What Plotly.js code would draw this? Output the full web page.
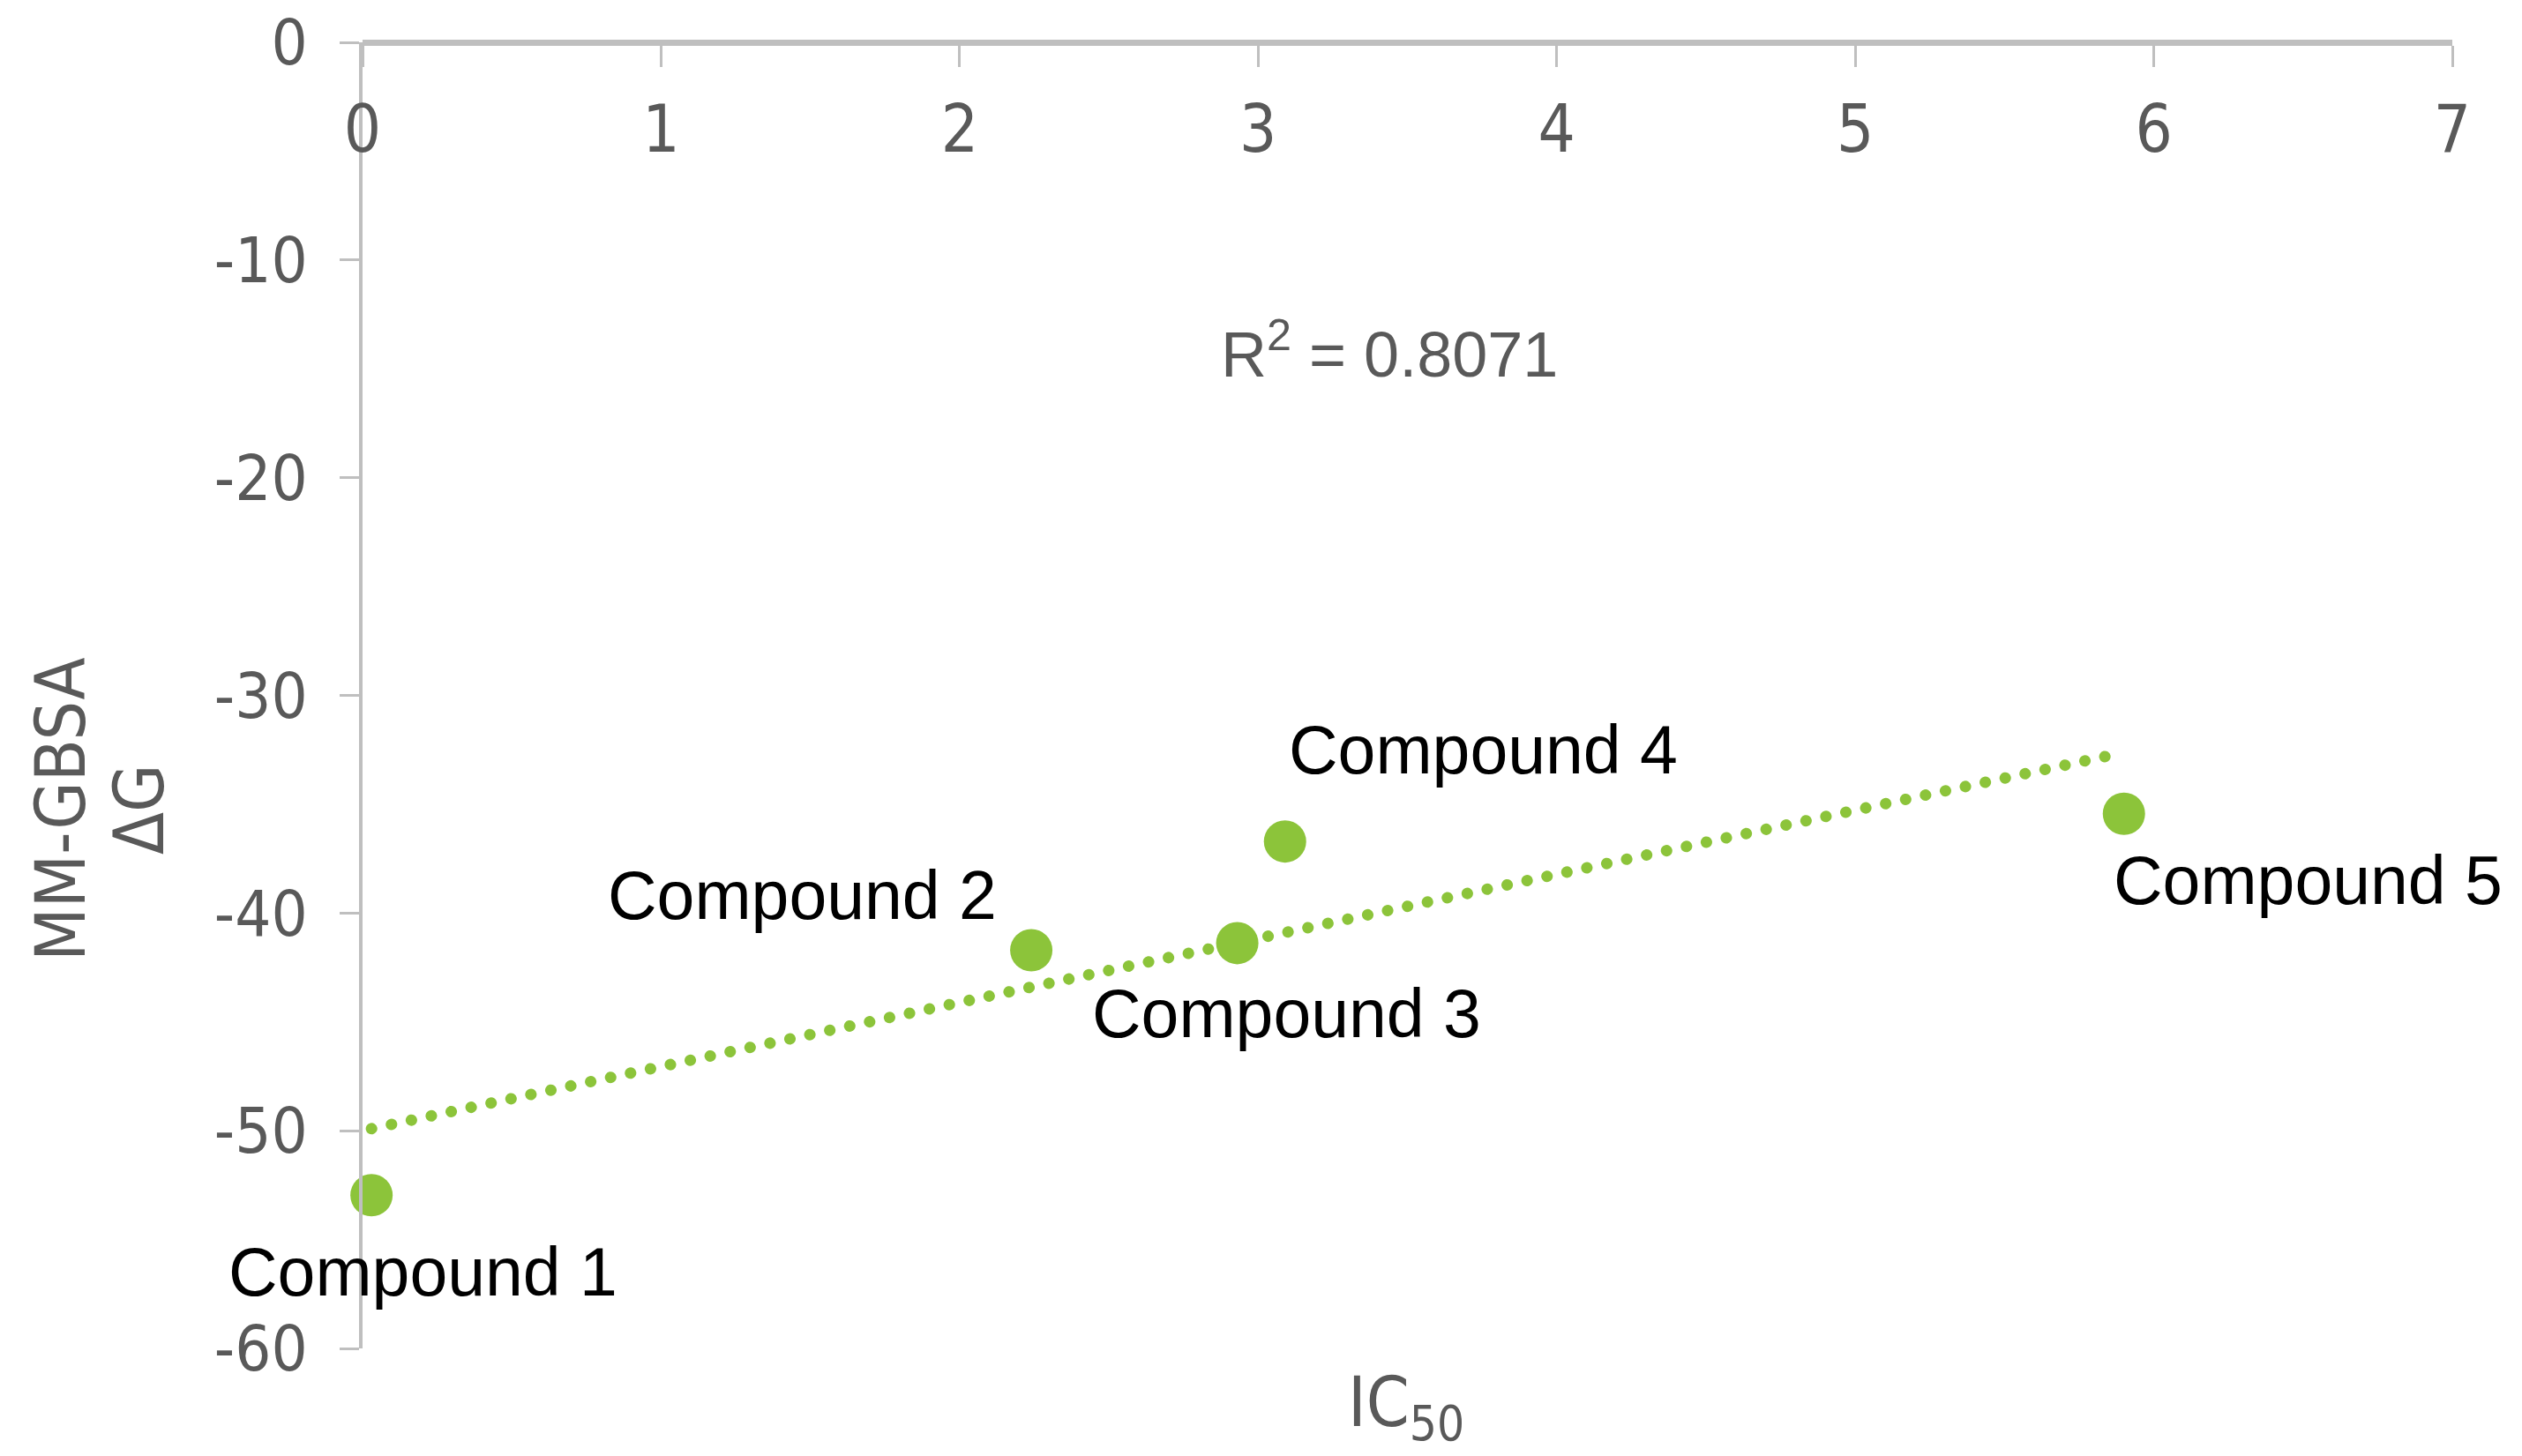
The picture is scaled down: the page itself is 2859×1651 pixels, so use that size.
<!DOCTYPE html>
<html>
<head>
<meta charset="utf-8">
<script src="https://cdn.plot.ly/plotly-3.0.1.min.js"></script>
<style>
  html, body { margin: 0; padding: 0; background: #ffffff; }
  #chart { width: 2859px; height: 1651px; }
  .trend .js-line { stroke-linecap: round; }
</style>
</head>
<body>
<div id="chart"></div>
<script>
// ---- data ----
const compounds = ['Compound 1', 'Compound 2', 'Compound 3', 'Compound 4', 'Compound 5'];
const ic50 = [0.03, 2.24, 2.93, 3.09, 5.90];
const deltaG = [-52.96, -41.71, -41.38, -36.71, -35.44];
const xTickVals = [0, 1, 2, 3, 4, 5, 6, 7];
const xTickText = ['0', '1', '2', '3', '4', '5', '6', '7'];
const yTickVals = [0, -10, -20, -30, -40, -50, -60];
const yTickText = ['0', '-10', '-20', '-30', '-40', '-50', '-60'];
const rSquaredLabel = 'R<sup>2</sup> = 0.8071';
const xTitle = 'IC<sub>50</sub>';
const yTitleLines = ['MM-GBSA', 'ΔG'];

// ---- label placement (pixels relative to each point) ----
const labelShift = [[-164, -87], [-482, 63], [-167, -80], [2, 104], [-14, -75]];

// ---- linear trendline (least squares on the points) ----
const n = ic50.length;
const mx = ic50.reduce((a, b) => a + b, 0) / n;
const my = deltaG.reduce((a, b) => a + b, 0) / n;
let sxy = 0, sxx = 0;
for (let i = 0; i < n; i++) { sxy += (ic50[i] - mx) * (deltaG[i] - my); sxx += (ic50[i] - mx) ** 2; }
const slope = sxy / sxx;
const intercept = my - slope * mx;
const trendX = [Math.min(...ic50), Math.max(...ic50)];
const trendY = trendX.map(v => intercept + slope * v);

const green = '#8cc43a';
const axisGrey = '#bfbfbf';
const textGrey = '#595959';
const tickFamily = '"Liberation Sans Narrow", "DejaVu Sans Condensed", "Liberation Sans", sans-serif';
const labelFamily = '"Liberation Sans", Arial, sans-serif';

const traces = [
  {
    type: 'scatter', mode: 'lines', x: trendX, y: trendY,
    line: { color: green, width: 13, dash: '0.1px,23px' },
    hoverinfo: 'skip', showlegend: false, cliponaxis: false
  },
  {
    type: 'scatter', mode: 'markers', x: ic50, y: deltaG, text: compounds,
    marker: { color: green, size: 48, line: { width: 0 } },
    showlegend: false, cliponaxis: false
  }
];

const annotations = compounds.map((c, i) => ({
  xref: 'x', yref: 'y', x: ic50[i], y: deltaG[i], text: c,
  showarrow: false, xanchor: 'left', yanchor: 'middle',
  xshift: labelShift[i][0], yshift: labelShift[i][1],
  font: { family: labelFamily, size: 77, color: '#000000' }
}));

annotations.push({
  xref: 'x', yref: 'y', x: 3.44, y: -14.1, text: rSquaredLabel, showarrow: false,
  xanchor: 'center', yanchor: 'middle',
  font: { family: labelFamily, size: 72, color: textGrey }
});
annotations.push({
  xref: 'paper', yref: 'paper', x: 0.4994, y: 0, yshift: -66, text: xTitle, showarrow: false,
  xanchor: 'center', yanchor: 'middle',
  font: { family: tickFamily, size: 78, color: textGrey }
});
annotations.push({
  xref: 'paper', yref: 'paper', x: 0, y: 0.4126, xshift: -342, text: yTitleLines[0], showarrow: false,
  textangle: -90, xanchor: 'center', yanchor: 'middle',
  font: { family: tickFamily, size: 78, color: textGrey }
});
annotations.push({
  xref: 'paper', yref: 'paper', x: 0, y: 0.4126, xshift: -253, text: yTitleLines[1], showarrow: false,
  textangle: -90, xanchor: 'center', yanchor: 'middle',
  font: { family: tickFamily, size: 78, color: textGrey }
});

const layout = {
  width: 2859, height: 1651,
  margin: { l: 411, r: 79, t: 48, b: 122, pad: 0 },
  paper_bgcolor: '#ffffff', plot_bgcolor: '#ffffff',
  showlegend: false,
  xaxis: {
    range: [0, 7], side: 'bottom', anchor: 'free', position: 1,
    showgrid: false, zeroline: false,
    showline: true, linecolor: axisGrey, linewidth: 7,
    ticks: 'outside', ticklen: 24, tickwidth: 3, tickcolor: axisGrey,
    tickmode: 'array', tickvals: xTickVals, ticktext: xTickText,
    ticklabelstandoff: 7,
    tickfont: { family: tickFamily, size: 74, color: textGrey },
    fixedrange: true
  },
  yaxis: {
    range: [-60, 0], showgrid: false, zeroline: false,
    showline: true, linecolor: axisGrey, linewidth: 4,
    ticks: 'outside', ticklen: 22, tickwidth: 3, tickcolor: axisGrey,
    tickmode: 'array', tickvals: yTickVals, ticktext: yTickText,
    ticklabelstandoff: 22,
    tickfont: { family: tickFamily, size: 72, color: textGrey },
    fixedrange: true
  },
  annotations: annotations
};

Plotly.newPlot('chart', traces, layout, { displayModeBar: false, staticPlot: true }).then(() => {
  document.querySelectorAll('.scatterlayer .trace').forEach((t, i) => { if (i === 0) t.classList.add('trend'); });
});
</script>
</body>
</html>
